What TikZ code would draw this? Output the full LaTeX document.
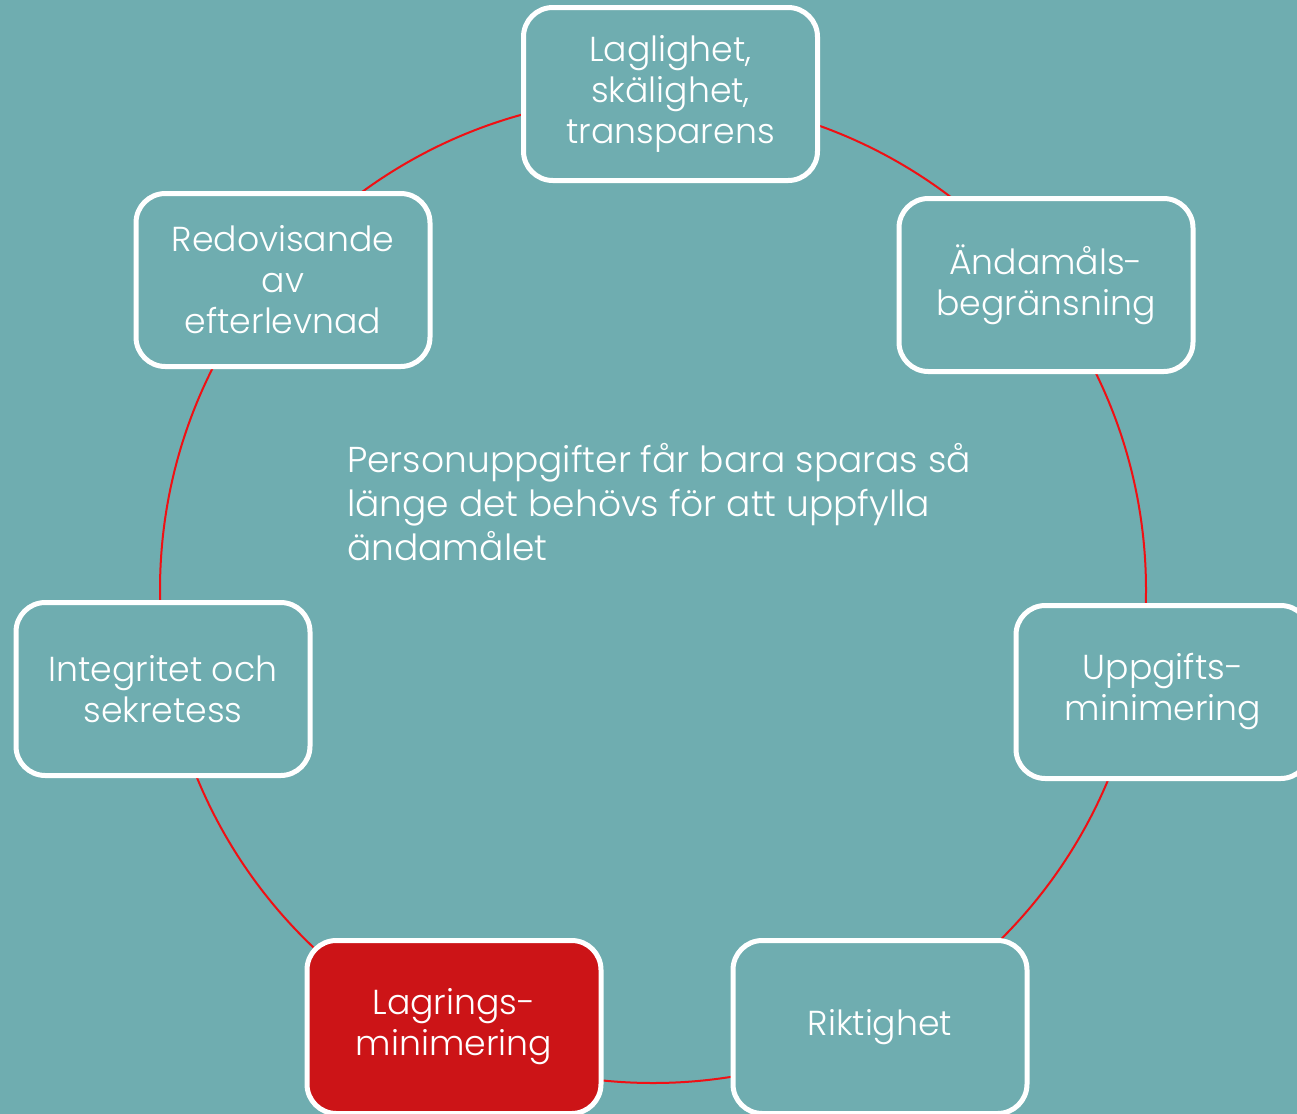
\documentclass[tikz,border=0pt]{standalone}
\usepackage{fontspec}
\setmainfont{Poppins}[UprightFont=* Light]
\definecolor{teal}{RGB}{111,173,176}
\definecolor{fillred}{RGB}{204,20,23}
\definecolor{ringred}{RGB}{240,16,20}
\begin{document}
\begin{tikzpicture}[x=0.75pt,y=-0.75pt,
  principle/.style={draw=white, line width=3.75pt, rounded corners=22pt,
    fill=teal, text=white, align=center, inner sep=0pt,
    minimum width=220.5pt, minimum height=129.75pt,
    font=\fontsize{26}{30.75}\selectfont},
  current/.style={principle, fill=fillred},
  ring/.style={draw=ringred, line width=1.5pt},
  note/.style={text=white, align=left, inner sep=0pt,
    font=\fontsize{27}{33}\selectfont}]
  \useasboundingbox (0,0) rectangle (1297,1114);
  \clip (0,0) rectangle (1297,1114);
  \fill[teal] (0,0) rectangle (1297,1114);

  % cycle ring behind the boxes
  \coordinate (hub) at (653,590);
  \draw[ring] (hub) circle[radius=369.75pt];

  % the seven principles
  \node[principle] (lawful)   at (670.5,94)  {Laglighet,\\skälighet,\\transparens};
  \node[principle] (purpose)  at (1046,285)  {Ändamåls-\\begränsning};
  \node[principle] (datamin)  at (1163,692)  {Uppgifts-\\minimering};
  \node[principle] (accuracy) at (880,1027)  {Riktighet};
  \node[current]   (storage)  at (454,1027)  {Lagrings-\\minimering};
  \node[principle] (integrity) at (163,689)  {Integritet och\\sekretess};
  \node[principle] (account)  at (283,280)   {Redovisande\\av\\efterlevnad};

  % description of the highlighted principle
  \node[note, anchor=north west] (desc) at (347,443)
    {Personuppgifter får bara sparas så\\länge det behövs för att uppfylla\\ändamålet};
\end{tikzpicture}
\end{document}
